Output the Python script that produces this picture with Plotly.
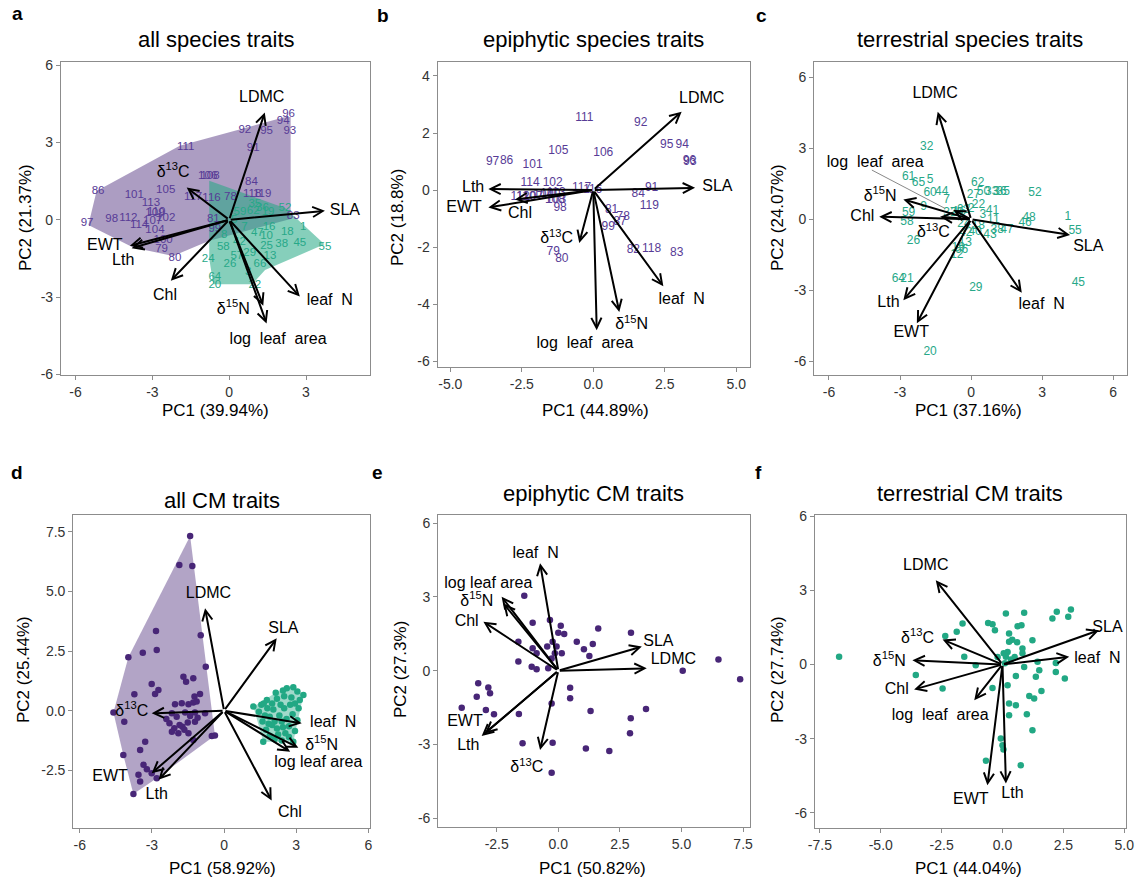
import plotly.graph_objects as go

W, H = 1139, 878
FONT = "Arial, Liberation Sans, Helvetica, sans-serif"
PURPLE = "#482677"
GREEN = "#22A884"
PURPLE_TXT = "#573b96"
GREEN_TXT = "#27a888"

D13 = "δ<sup>13</sup>C"
D15 = "δ<sup>15</sup>N"
LN = "leaf\u00a0\u00a0N"
LLA2 = "log\u00a0\u00a0leaf\u00a0\u00a0area"
LLA1 = "log leaf area"

# ---------------- panel a: all species traits ----------------
a_traits = ["LDMC", "SLA", LN, LLA2, D15, "Chl", "EWT", "Lth", D13]
a_tip_x = [1.39, 3.74, 2.76, 1.46, 1.33, -2.28, -3.88, -3.81, -1.66]
a_tip_y = [4.16, 0.35, -2.98, -4.02, -3.33, -2.36, -1.01, -1.10, 1.25]
a_lab_x = [1.27, 4.52, 3.93, 1.91, 0.16, -2.51, -4.86, -4.14, -2.19]
a_lab_y = [4.74, 0.35, -3.14, -4.65, -3.50, -2.95, -1.01, -1.59, 1.83]

a_epi_lab = ["96", "94", "93", "92", "95", "91", "111", "106", "108", "84", "86", "101", "105",
             "113", "117", "116", "78", "118", "119", "97", "98", "112", "109", "110", "102",
             "114", "107", "104", "100", "79", "80", "81", "99", "83"]
a_epi_x = [2.32, 2.11, 2.37, 0.61, 1.46, 0.94, -1.70, -0.84, -0.75, 0.87, -5.12, -3.71, -2.48,
           -3.06, -1.41, -0.69, 0.05, 0.90, 1.29, -5.55, -4.59, -3.94, -2.90, -2.85, -2.48,
           -3.52, -2.99, -2.90, -2.58, -2.64, -2.12, -0.62, -0.56, 2.50]
a_epi_y = [4.10, 3.81, 3.42, 3.48, 3.42, 2.78, 2.80, 1.68, 1.70, 1.45, 1.12, 0.97, 1.16,
           0.65, 0.86, 0.84, 0.86, 1.00, 1.00, -0.14, 0.03, 0.07, 0.26, 0.30, 0.07,
           -0.19, -0.04, -0.40, -0.79, -1.14, -1.48, 0.03, -0.36, 0.15]

a_ter_lab = ["52", "1", "55", "45", "38", "18", "25", "16", "10", "24", "58", "26", "3", "64",
             "20", "22", "66", "13", "35", "62", "59", "19", "7", "47", "42", "29", "5", "36",
             "8", "57"]
a_ter_x = [2.18, 2.89, 3.74, 2.76, 2.05, 2.27, 1.46, 1.56, 1.46, -0.82, -0.23, 0.03, 0.74, -0.56,
           -0.56, 1.00, 1.20, 1.59, 1.00, 0.94, 0.42, 1.52, 0.60, 1.10, 0.40, 0.80, 0.20, 1.30,
           -0.20, 0.30]
a_ter_y = [0.45, -0.30, -1.07, -0.92, -0.94, -0.49, -1.01, -0.30, -0.62, -1.52, -1.07, -1.72, -2.04,
           -2.24, -2.52, -2.52, -1.72, -1.40, 0.61, 0.32, 0.28, 0.28, -0.30, -0.50, -0.85, -1.30,
           0.00, 0.45, -0.60, -1.40]

a_epi_hull_x = [-5.18, -1.93, 2.11, 2.40, 2.40, -0.78, -2.19, -3.75, -5.50]
a_epi_hull_y = [1.12, 2.87, 3.97, 3.99, 0.03, -0.81, -1.40, -1.07, -0.20]
a_ter_hull_x = [-0.78, 2.20, 3.72, 1.40, 0.90, -0.62, -0.78]
a_ter_hull_y = [1.51, 0.45, -0.95, -1.95, -2.50, -2.50, -1.50]

# ---------------- panel b: epiphytic species traits ----------------
b_traits = ["LDMC", "SLA", LN, D15, LLA2, D13, "Chl", "Lth", "EWT"]
b_tip_x = [3.09, 3.56, 2.45, 0.91, 0.12, -0.49, -2.74, -3.67, -3.67]
b_tip_y = [2.75, 0.08, -3.37, -4.27, -4.91, -1.85, -0.33, 0.04, -0.61]
b_lab_x = [3.79, 4.34, 3.09, 1.34, -0.29, -1.28, -2.56, -4.20, -4.52]
b_lab_y = [3.18, 0.12, -3.84, -4.74, -5.38, -1.73, -0.82, 0.06, -0.64]

b_epi_lab = ["111", "92", "95", "94", "96", "93", "105", "106", "97", "86", "101", "114", "102",
             "117", "116", "84", "91", "119", "81", "78", "99", "87", "82", "118", "83", "79",
             "80", "108", "103", "113", "98", "112", "107", "104", "110", "100"]
b_epi_x = [-0.31, 1.66, 2.57, 3.11, 3.36, 3.38, -1.22, 0.35, -3.52, -3.03, -2.12, -2.21, -1.42,
           -0.41, -0.02, 1.57, 2.04, 1.96, 0.64, 1.05, 0.52, 0.93, 1.40, 2.04, 2.92, -1.40,
           -1.10, -1.34, -1.30, -1.30, -1.16, -2.56, -2.10, -1.75, -2.35, -1.50]
b_epi_y = [2.52, 2.36, 1.58, 1.58, 1.02, 0.98, 1.37, 1.29, 0.99, 1.02, 0.88, 0.24, 0.26,
           0.09, 0.02, -0.12, 0.06, -0.56, -0.68, -0.94, -1.29, -1.11, -2.10, -2.05, -2.22, -2.16,
           -2.43, -0.33, -0.36, -0.10, -0.64, -0.23, -0.23, -0.18, -0.25, -0.15]

# ---------------- panel c: terrestrial species traits ----------------
c_traits = ["LDMC", "SLA", LN, "EWT", "Lth", "Chl", D15, D13, LLA2]
c_tip_x = [-1.41, 4.18, 2.14, -2.29, -2.86, -3.88, -2.86, -1.31, -0.75]
c_tip_y = [4.54, -0.66, -3.10, -4.39, -3.41, 0.11, 0.84, 0.11, 0.39]
c_lab_x = [-1.52, 4.95, 2.98, -2.53, -3.49, -4.59, -3.84, -1.59, -4.05]
c_lab_y = [5.29, -1.16, -3.62, -4.81, -3.52, 0.08, 0.95, -0.59, 2.36]
c_leader_x = [-4.19, -1.10]
c_leader_y = [2.08, 0.46]

c_ter_lab = ["32", "61", "65", "5", "60", "44", "7", "9", "37", "62", "50", "33", "36", "35",
             "52", "27", "22", "41", "11", "48", "46", "1", "55", "47", "43", "40", "63", "59",
             "58", "26", "12", "19", "42", "64", "21", "29", "45", "20", "2", "38", "16", "24",
             "3", "25", "18", "13", "66"]
c_ter_x = [-1.87, -2.64, -2.22, -1.73, -1.73, -1.24, -1.03, -2.01, -0.89, 0.28, 0.52, 0.87, 1.22,
           1.36, 2.70, 0.10, 0.31, 0.90, 0.94, 2.45, 2.28, 4.08, 4.39, 1.51, 0.80, 0.17, -0.32,
           -2.64, -2.71, -2.43, -0.60, -0.54, -0.22, -3.07, -2.71, 0.20, 4.53, -1.73, 0.00, 1.10,
           -0.50, -0.30, 0.50, -0.60, 0.30, -0.25, -0.40]
c_ter_y = [3.06, 1.80, 1.55, 1.66, 1.12, 1.17, 0.81, 0.53, 0.25, 1.55, 1.17, 1.17, 1.17,
           1.17, 1.10, 1.03, 0.60, 0.36, -0.03, 0.04, -0.14, 0.08, -0.49, -0.45, -0.66, -0.52, 0.39,
           0.28, -0.10, -0.90, -1.51, -1.22, -0.59, -2.53, -2.53, -2.91, -2.67, -5.59, 0.45, -0.45,
           0.30, -0.20, 0.20, 0.25, -0.30, -1.00, -1.30]

# ---------------- panel d: all CM traits ----------------
d_traits = ["LDMC", "SLA", LN, D15, LLA1, "Chl", D13, "EWT", "Lth"]
d_tip_x = [-0.79, 2.19, 3.23, 3.09, 2.75, 1.98, -3.01, -3.01, -2.73]
d_tip_y = [4.29, 3.03, -0.53, -1.55, -1.72, -3.77, -0.11, -2.62, -2.90]
d_lab_x = [-0.65, 2.47, 4.54, 4.06, 3.92, 2.74, -3.84, -4.74, -2.80]
d_lab_y = [4.89, 3.41, -0.53, -1.48, -2.18, -4.30, -0.04, -2.76, -3.53]

d_epi_x = [-1.41, -1.86, -1.32, -2.83, -0.97, -3.98, -3.38, -2.80, -0.76, -1.69, -1.58, -1.28,
           -3.01, -2.73, -2.87, -3.73, -1.00, -1.23, -2.04, -1.76, -1.48, -1.28, -1.14, -4.60,
           -4.15, -2.17, -1.97, -1.62, -1.41, -1.21, -0.79, -2.27, -2.07, -1.90, -1.73, -1.51,
           -1.21, -2.17, -1.48, -1.28, -0.51, -3.28, -3.49, -4.19, -3.35, -3.21, -3.56, -3.01,
           -3.49, -3.77, -2.80, -0.38, -1.85, -1.65, -2.40, -1.10]
d_epi_y = [7.32, 6.10, 6.06, 3.34, 3.16, 2.24, 2.43, 2.54, 1.84, 1.42, 1.21, 1.36,
           1.12, 0.87, 0.70, 0.69, 0.70, 0.59, 0.27, 0.31, 0.27, 0.34, 0.38, -0.08,
           -0.46, -0.11, -0.25, -0.08, -0.22, -0.08, -0.11, -0.53, -0.74, -0.95, -0.67, -0.50,
           -0.46, -0.88, -0.95, -1.23, -1.06, -1.30, -1.65, -1.86, -2.27, -2.46, -2.69, -2.62,
           -2.97, -3.49, -2.83, -1.04, -0.60, -0.80, -0.35, -0.30]

d_ter_x = [1.22, 1.63, 2.88, 3.30, 2.88, 2.61, 1.78, 2.45, 3.05, 3.15, 1.45, 1.55, 1.60, 1.75,
           1.90, 2.10, 2.40, 2.70, 2.95, 3.05, 3.10, 2.80, 2.50, 2.20, 2.00, 1.80, 1.90, 2.10,
           2.30, 2.50, 2.60, 2.75, 2.35, 2.05, 1.70, 2.20, 2.45, 2.70, 2.85, 2.00, 1.85, 2.55,
           2.25, 2.95, 1.65, 2.40, 2.15]
d_ter_y = [0.17, -1.30, -1.30, 0.66, 0.98, 0.94, 0.45, 0.85, 0.80, 0.45, -0.05, 0.25, -0.45, -0.80,
           -1.05, -1.20, -1.25, -1.10, -0.85, -0.40, 0.10, 0.55, 0.60, 0.50, 0.30, 0.10, -0.25, -0.45,
           -0.20, 0.10, -0.35, 0.25, 0.25, 0.05, -0.20, -0.75, -0.70, -0.65, -0.15, -0.60, -0.55, -0.95,
           -1.00, 0.30, 0.30, -0.45, 0.75]

# ---------------- panel e: epiphytic CM traits ----------------
e_traits = [LN, LLA1, D15, "Chl", "SLA", "LDMC", "EWT", "Lth", D13]
e_tip_x = [-0.74, -2.30, -2.23, -3.04, 3.39, 3.59, -2.98, -3.11, -0.74]
e_tip_y = [4.37, 3.01, 2.74, 1.99, 0.98, 0.10, -2.55, -2.65, -3.22]
e_lab_x = [-0.92, -2.84, -3.31, -3.72, 4.06, 4.67, -3.79, -3.65, -1.28]
e_lab_y = [4.73, 3.51, 2.80, 1.99, 1.18, 0.43, -2.07, -3.06, -3.97]

e_epi_x = [-1.38, -1.04, -0.34, 0.10, 0.00, 0.24, -0.23, -0.07, 0.14, -0.45, -0.14, -0.27,
           -1.04, -0.88, -1.62, -1.62, -1.08, -0.88, -0.41, 0.75, 1.04, 1.40, 1.26, 1.62,
           2.95, 6.50, 5.05, 7.38, -3.25, -2.84, -2.77, -3.31, -3.92, -2.94, -2.61, -1.60,
           -0.27, 0.48, 0.48, 1.31, 3.56, 2.94, 2.91, -1.45, -0.23, 1.12, 2.07, -0.27]
e_epi_y = [3.05, 1.95, 2.06, 1.83, 1.54, 1.49, 1.18, 0.98, 0.71, 0.98, 0.71, 0.50,
           0.91, 0.71, 1.18, 0.37, 0.16, 0.06, 0.10, 1.18, 0.87, 1.09, 0.60, 1.72,
           1.54, 0.46, 0.00, -0.35, -0.51, -0.68, -0.92, -1.06, -1.50, -1.60, -1.77, -1.76,
           -1.33, -0.69, -1.12, -1.64, -1.56, -1.93, -2.54, -2.95, -2.93, -3.16, -3.26, -4.15]

# ---------------- panel f: terrestrial CM traits ----------------
f_traits = ["LDMC", "SLA", LN, D13, D15, "Chl", LLA2, "EWT", "Lth"]
f_tip_x = [-2.74, 3.97, 2.74, -2.46, -3.70, -3.63, -1.16, -0.62, 0.14]
f_tip_y = [3.41, 1.39, 0.31, 1.01, 0.17, -1.01, -1.45, -4.89, -4.82]
f_lab_x = [-3.15, 4.31, 3.90, -3.49, -4.65, -4.34, -2.56, -1.30, 0.41]
f_lab_y = [3.98, 1.46, 0.24, 1.05, 0.11, -1.04, -2.09, -5.47, -5.25]

f_ter_x = [-6.71, 0.14, 0.89, 2.05, 2.23, 2.81, 2.70, -1.64, -1.88, -2.35, -0.59, -0.41, -0.31,
           0.62, 0.78, 0.27, 0.27, 1.23, 0.82, 0.82, 0.21, 0.14, -1.57, -1.10, -3.56, -2.46,
           -0.41, 0.21, 0.55, 0.89, 1.44, 1.51, 1.37, 1.60, 2.19, 2.56, 2.19, 0.27, 0.55, 0.27,
           1.10, 1.00, 1.30, 1.23, -0.07, 0.00, 0.04, -0.68, 0.75, 0.05, 0.35, 0.10, -0.20,
           0.50, 0.60, 0.40]
f_ter_y = [0.31, 2.06, 2.09, 1.86, 2.13, 2.23, 1.93, 1.66, 1.32, 1.15, 1.68, 1.63, 1.39,
           1.55, 1.59, 1.25, 0.92, 0.98, 0.65, 0.45, 0.51, 0.31, 0.31, -0.03, -0.43, -0.97,
           -0.95, -0.84, -0.47, -0.10, 0.11, -0.23, -0.50, -1.07, 0.06, -0.57, -0.30, -1.58, -1.65, -2.05,
           -1.28, -2.01, -1.38, -2.66, -3.00, -3.27, -3.44, -3.90, -4.08, 0.45, 0.20, 0.05, 0.30,
           0.30, 0.90, 1.00]

# ---------------- axes / titles ----------------
titles = ["all species traits", "epiphytic species traits", "terrestrial species traits",
          "all CM traits", "epiphytic CM traits", "terrestrial CM traits"]
letters = ["a", "b", "c", "d", "e", "f"]
pc1 = ["PC1 (39.94%)", "PC1 (44.89%)", "PC1 (37.16%)", "PC1 (58.92%)", "PC1 (50.82%)", "PC1 (44.04%)"]
pc2 = ["PC2 (21.37%)", "PC2 (18.8%)", "PC2 (24.07%)", "PC2 (25.44%)", "PC2 (27.3%)", "PC2 (27.74%)"]
x_ticks = [[-6, -3, 0, 3], [-5, -2.5, 0, 2.5, 5], [-6, -3, 0, 3, 6],
           [-6, -3, 0, 3, 6], [-2.5, 0, 2.5, 5, 7.5], [-7.5, -5, -2.5, 0, 2.5, 5]]
x_ticktext = [["-6", "-3", "0", "3"], ["-5.0", "-2.5", "0.0", "2.5", "5.0"], ["-6", "-3", "0", "3", "6"],
              ["-6", "-3", "0", "3", "6"], ["-2.5", "0.0", "2.5", "5.0", "7.5"],
              ["-7.5", "-5.0", "-2.5", "0.0", "2.5", "5.0"]]
y_ticks = [[-6, -3, 0, 3, 6], [-6, -4, -2, 0, 2, 4], [-6, -3, 0, 3, 6],
           [-2.5, 0, 2.5, 5, 7.5], [-6, -3, 0, 3, 6], [-6, -3, 0, 3, 6]]
y_ticktext = [["-6", "-3", "0", "3", "6"], ["-6", "-4", "-2", "0", "2", "4"], ["-6", "-3", "0", "3", "6"],
              ["-2.5", "0.0", "2.5", "5.0", "7.5"], ["-6", "-3", "0", "3", "6"], ["-6", "-3", "0", "3", "6"]]

# layout geometry (pixels)
box_px = [(61, 370, 62, 375), (437.7, 750, 62, 367), (814.3, 1126.7, 62, 375),
          (73.3, 370, 515, 828.3), (438.3, 750, 515, 826.7), (815, 1125.7, 515, 828.3)]
x_ranges = [[-6.57, 5.5], [-5.44, 5.48], [-6.62, 6.57], [-6.27, 6.07], [-4.87, 7.78], [-7.7, 5.06]]
y_ranges = [[-6.02, 6.12], [-6.2, 4.49], [-6.57, 6.64], [-4.93, 8.2], [-6.34, 6.33], [-6.63, 6.05]]
title_pos = [(216, 40), (593, 40), (970, 40), (222, 500), (593, 493), (970, 493)]
letter_pos = [(17, 14), (383, 16), (761, 16), (17, 473), (377, 472), (758, 472)]
xt_pos = [(215, 410), (595, 410), (968, 410), (222, 868), (592, 868), (968, 868)]
yt_pos = [(26, 218), (398, 218), (778, 218), (23, 670), (400, 670), (777, 670)]


def hull(xs, ys):
    pts = sorted(set(zip(xs, ys)))

    def cross(o, a, b):
        return (a[0] - o[0]) * (b[1] - o[1]) - (a[1] - o[1]) * (b[0] - o[0])
    lower, upper = [], []
    for p in pts:
        while len(lower) >= 2 and cross(lower[-2], lower[-1], p) <= 0:
            lower.pop()
        lower.append(p)
    for p in reversed(pts):
        while len(upper) >= 2 and cross(upper[-2], upper[-1], p) <= 0:
            upper.pop()
        upper.append(p)
    h = lower[:-1] + upper[:-1]
    h.append(h[0])
    return [p[0] for p in h], [p[1] for p in h]


fig = go.Figure()
annotations = []


def refs(i):
    s = "" if i == 0 else str(i + 1)
    return "x" + s, "y" + s


def add_poly(i, xs, ys, color, alpha):
    xr, yr = refs(i)
    r, g, b = int(color[1:3], 16), int(color[3:5], 16), int(color[5:7], 16)
    fig.add_trace(go.Scatter(x=list(xs) + [xs[0]], y=list(ys) + [ys[0]], xaxis=xr, yaxis=yr,
                             fill="toself", fillcolor=f"rgba({r},{g},{b},{alpha})",
                             line=dict(width=0), mode="lines", hoverinfo="skip", showlegend=False))


def add_labels(i, labs, xs, ys, color, size):
    xr, yr = refs(i)
    fig.add_trace(go.Scatter(x=xs, y=ys, text=labs, mode="text", xaxis=xr, yaxis=yr,
                             textfont=dict(family=FONT, size=size, color=color),
                             textposition="middle center", showlegend=False, hoverinfo="skip"))


def add_points(i, xs, ys, color):
    xr, yr = refs(i)
    fig.add_trace(go.Scatter(x=xs, y=ys, mode="markers", xaxis=xr, yaxis=yr,
                             marker=dict(size=6.5, color=color), showlegend=False, hoverinfo="skip"))


def add_arrows(i, names, tx, ty, lx, ly):
    xr, yr = refs(i)
    for x, y in zip(tx, ty):
        annotations.append(dict(x=x, y=y, ax=0, ay=0, xref=xr, yref=yr, axref=xr, ayref=yr,
                                text="", showarrow=True, arrowhead=5, arrowsize=1.0,
                                arrowwidth=2, arrowcolor="black"))
    fig.add_trace(go.Scatter(x=lx, y=ly, text=names, mode="text", xaxis=xr, yaxis=yr,
                             textfont=dict(family=FONT, size=16, color="black"),
                             textposition="middle center", showlegend=False, hoverinfo="skip"))


# panel a
add_poly(0, a_epi_hull_x, a_epi_hull_y, PURPLE, 0.45)
add_poly(0, a_ter_hull_x, a_ter_hull_y, GREEN, 0.55)
add_labels(0, a_epi_lab, a_epi_x, a_epi_y, PURPLE_TXT, 11.5)
add_labels(0, a_ter_lab, a_ter_x, a_ter_y, GREEN_TXT, 11.5)
add_arrows(0, a_traits, a_tip_x, a_tip_y, a_lab_x, a_lab_y)

# panel b
add_labels(1, b_epi_lab, b_epi_x, b_epi_y, PURPLE_TXT, 12)
add_arrows(1, b_traits, b_tip_x, b_tip_y, b_lab_x, b_lab_y)

# panel c
add_labels(2, c_ter_lab, c_ter_x, c_ter_y, GREEN_TXT, 12)
fig.add_trace(go.Scatter(x=c_leader_x, y=c_leader_y, mode="lines", xaxis="x3", yaxis="y3",
                         line=dict(color="#888888", width=1), showlegend=False, hoverinfo="skip"))
add_arrows(2, c_traits, c_tip_x, c_tip_y, c_lab_x, c_lab_y)

# panel d
hx, hy = hull(d_epi_x, d_epi_y)
add_poly(3, hx, hy, PURPLE, 0.42)
hx, hy = hull(d_ter_x, d_ter_y)
add_poly(3, hx, hy, GREEN, 0.42)
add_points(3, d_epi_x, d_epi_y, PURPLE)
add_points(3, d_ter_x, d_ter_y, GREEN)
add_arrows(3, d_traits, d_tip_x, d_tip_y, d_lab_x, d_lab_y)

# panel e
add_points(4, e_epi_x, e_epi_y, PURPLE)
add_arrows(4, e_traits, e_tip_x, e_tip_y, e_lab_x, e_lab_y)

# panel f
add_points(5, f_ter_x, f_ter_y, GREEN)
add_arrows(5, f_traits, f_tip_x, f_tip_y, f_lab_x, f_lab_y)

layout = dict(width=W, height=H, margin=dict(l=0, r=0, t=0, b=0, pad=0, autoexpand=False),
              paper_bgcolor="white", plot_bgcolor="white", showlegend=False,
              font=dict(family=FONT))

for i in range(6):
    x0, x1, y0, y1 = box_px[i]
    s = "" if i == 0 else str(i + 1)
    axis_common = dict(showgrid=False, zeroline=False, showline=True, mirror=True,
                       linecolor="#8c8c8c", linewidth=1.2, ticks="outside", ticklen=4,
                       tickcolor="#8c8c8c", automargin=False,
                       tickfont=dict(family=FONT, size=14, color="#333333"))
    layout["xaxis" + s] = dict(domain=[x0 / W, x1 / W], range=x_ranges[i], anchor="y" + s,
                               tickvals=x_ticks[i], ticktext=x_ticktext[i], **axis_common)
    layout["yaxis" + s] = dict(domain=[1 - y1 / H, 1 - y0 / H], range=y_ranges[i], anchor="x" + s,
                               tickvals=y_ticks[i], ticktext=y_ticktext[i], **axis_common)
    tx, ty = title_pos[i]
    annotations.append(dict(x=tx / W, y=1 - ty / H, xref="paper", yref="paper", text=titles[i],
                            showarrow=False, xanchor="center", yanchor="middle",
                            font=dict(family=FONT, size=22, color="black")))
    lx, ly = letter_pos[i]
    annotations.append(dict(x=lx / W, y=1 - ly / H, xref="paper", yref="paper", text="<b>" + letters[i] + "</b>",
                            showarrow=False, xanchor="center", yanchor="middle",
                            font=dict(family=FONT, size=19, color="black")))
    px_, py_ = xt_pos[i]
    annotations.append(dict(x=px_ / W, y=1 - py_ / H, xref="paper", yref="paper", text=pc1[i],
                            showarrow=False, xanchor="center", yanchor="middle",
                            font=dict(family=FONT, size=17, color="black")))
    px_, py_ = yt_pos[i]
    annotations.append(dict(x=px_ / W, y=1 - py_ / H, xref="paper", yref="paper", text=pc2[i],
                            showarrow=False, xanchor="center", yanchor="middle", textangle=-90,
                            font=dict(family=FONT, size=17, color="black")))

layout["annotations"] = annotations
fig.update_layout(**layout)
fig.write_html("out.html", config={"displayModeBar": False},
               post_script="document.body.style.margin='0px';document.body.style.padding='0px';"
                           "document.body.style.overflow='hidden';")
